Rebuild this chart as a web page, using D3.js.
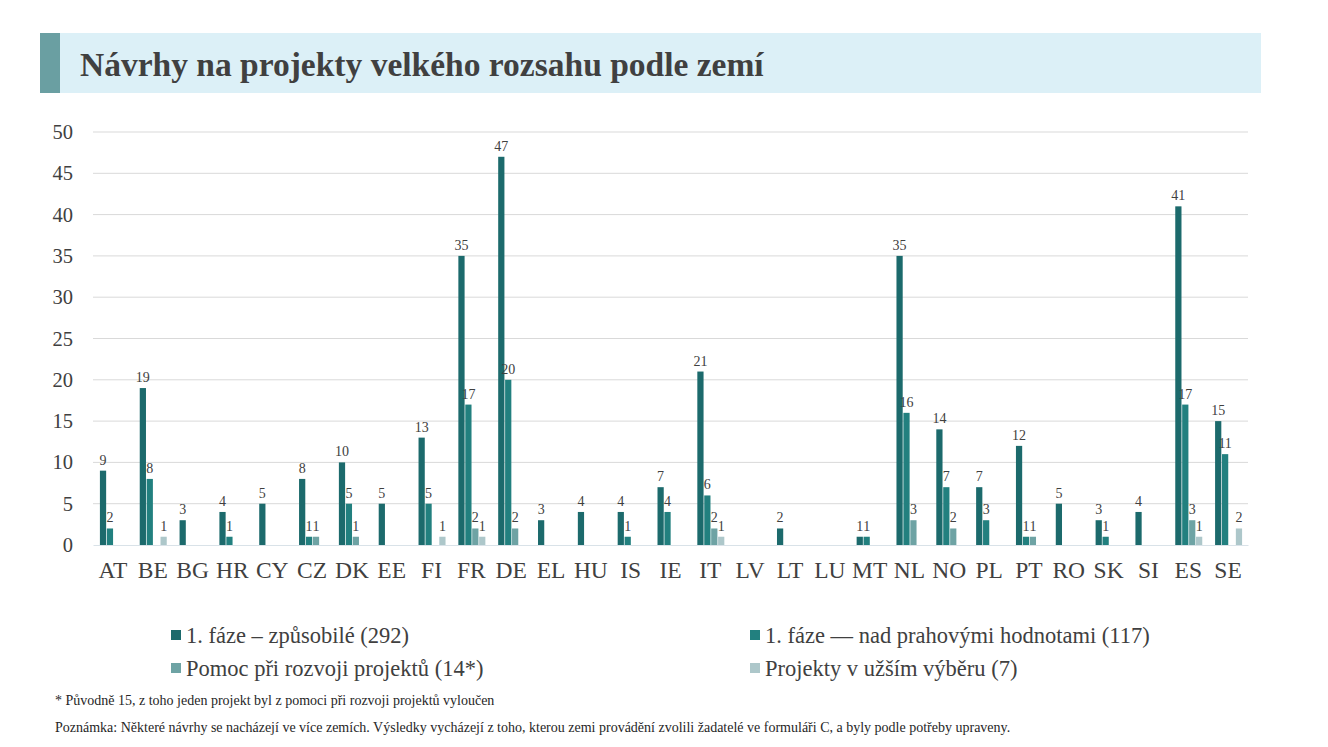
<!DOCTYPE html>
<html>
<head>
<meta charset="utf-8">
<script src="https://cdn.jsdelivr.net/npm/d3@7"></script>
<style>
  body { margin: 0; background: #fff; }
  svg text { font-family: "Liberation Serif", "Times New Roman", serif; }
</style>
</head>
<body>
<div id="chart"></div>
<script>
// chart data
const countries = ['AT', 'BE', 'BG', 'HR', 'CY', 'CZ', 'DK', 'EE', 'FI', 'FR', 'DE', 'EL', 'HU', 'IS', 'IE', 'IT', 'LV', 'LT', 'LU', 'MT', 'NL', 'NO', 'PL', 'PT', 'RO', 'SK', 'SI', 'ES', 'SE'];
const eligible = [9, 19, 3, 4, 5, 8, 10, 5, 13, 35, 47, 3, 4, 4, 7, 21, 0, 2, 0, 1, 35, 14, 7, 12, 5, 3, 4, 41, 15];
const aboveThreshold = [2, 8, 0, 1, 0, 1, 5, 0, 5, 17, 20, 0, 0, 1, 4, 6, 0, 0, 0, 1, 16, 7, 3, 1, 0, 1, 0, 17, 11];
const pda = [0, 0, 0, 0, 0, 1, 1, 0, 0, 2, 2, 0, 0, 0, 0, 2, 0, 0, 0, 0, 3, 2, 0, 1, 0, 0, 0, 3, 0];
const shortlisted = [0, 1, 0, 0, 0, 0, 0, 0, 1, 1, 0, 0, 0, 0, 0, 1, 0, 0, 0, 0, 0, 0, 0, 0, 0, 0, 0, 1, 2];
const seriesNames = ['1. fáze – způsobilé (292)', '1. fáze — nad prahovými hodnotami (117)', 'Pomoc při rozvoji projektů (14*)', 'Projekty v užším výběru (7)'];
const yTicks = [0, 5, 10, 15, 20, 25, 30, 35, 40, 45, 50];

const colors = ['#1c6a6c', '#22807f', '#6ea3a4', '#adc7ca'];
const allSeries = [eligible, aboveThreshold, pda, shortlisted];
const serif = '"Liberation Serif", "Times New Roman", serif';

const W = 1328, H = 747;
const svg = d3.select('#chart').append('svg')
        .attr('width', W)
        .attr('height', H)
        .attr('font-family', serif);

// title banner
svg.append('rect').attr('x', 40).attr('y', 33).attr('width', 1221).attr('height', 60).attr('fill', '#dcf0f7');
svg.append('rect').attr('x', 40).attr('y', 33).attr('width', 20).attr('height', 60).attr('fill', '#6a9fa2');
svg.append('text')
        .attr('x', 80).attr('y', 76)
        .attr('font-size', 33.5).attr('font-weight', 'bold').attr('fill', '#404040')
        .text('Návrhy na projekty velkého rozsahu podle zemí');

const margin = { left: 93, right: 1248, top: 132, bottom: 545 };

const x = d3.scaleBand().domain(countries).range([margin.left, margin.right]);
const y = d3.scaleLinear().domain([0, 50]).range([margin.bottom, margin.top]);
const inner = d3.scaleBand().domain(d3.range(4)).range([0, 27]).paddingInner(0.1);

// gridlines
svg.append('g').selectAll('line').data(yTicks.filter(d => d > 0)).join('line')
        .attr('x1', margin.left).attr('x2', margin.right)
        .attr('y1', d => y(d)).attr('y2', d => y(d))
        .attr('stroke', '#d9d9d9').attr('stroke-width', 1);

// y axis
const yAxis = svg.append('g')
        .attr('transform', `translate(${margin.left},0)`)
        .call(d3.axisLeft(y).tickValues(yTicks).tickSize(0).tickPadding(20))
        .attr('font-family', serif);
yAxis.select('.domain').remove();
yAxis.selectAll('text').attr('font-size', 20.5).attr('fill', '#404040');

// bars
const groupOffset = x.bandwidth() / 2 - 13;
allSeries.forEach((vals, si) => {
        const rows = countries.map((c, i) => ({ c, v: vals[i] })).filter(d => d.v > 0);
        const g = svg.append('g');
        g.selectAll('rect').data(rows).join('rect')
                .attr('x', d => x(d.c) + groupOffset + inner(si))
                .attr('y', d => y(d.v))
                .attr('width', inner.bandwidth())
                .attr('height', d => y(0) - y(d.v))
                .attr('fill', colors[si]);
        g.selectAll('text').data(rows).join('text')
                .attr('x', d => x(d.c) + groupOffset + inner(si) + inner.bandwidth() / 2)
                .attr('y', d => y(d.v) - 6)
                .attr('text-anchor', 'middle')
                .attr('font-size', 14).attr('fill', '#404040')
                .text(d => d.v);
});

// x axis
const xAxis = svg.append('g')
        .attr('transform', `translate(0,${margin.bottom})`)
        .call(d3.axisBottom(x).tickSize(0).tickPadding(16))
        .attr('font-family', serif);
xAxis.select('.domain').attr('stroke', '#d9e2e8');
xAxis.selectAll('text').attr('font-size', 23.5).attr('fill', '#404040');

// legend
const legendPos = [[171, 635], [750, 635], [171, 668], [750, 668]];
const legend = svg.append('g').selectAll('g').data(seriesNames).join('g')
        .attr('transform', (d, i) => `translate(${legendPos[i][0]},${legendPos[i][1]})`);
legend.append('rect').attr('x', 0).attr('y', -5).attr('width', 10).attr('height', 10)
        .attr('fill', (d, i) => colors[i]);
legend.append('text').attr('x', 15).attr('y', 8)
        .attr('font-size', 22.5).attr('fill', '#404040')
        .text(d => d);

// footnotes
svg.append('text').attr('x', 55).attr('y', 705).attr('font-size', 14).attr('fill', '#262626')
        .text('* Původně 15, z toho jeden projekt byl z pomoci při rozvoji projektů vyloučen');
svg.append('text').attr('x', 55).attr('y', 732).attr('font-size', 14).attr('fill', '#262626')
        .text('Poznámka: Některé návrhy se nacházejí ve více zemích. Výsledky vycházejí z toho, kterou zemi provádění zvolili žadatelé ve formuláři C, a byly podle potřeby upraveny.');
</script>
</body>
</html>
